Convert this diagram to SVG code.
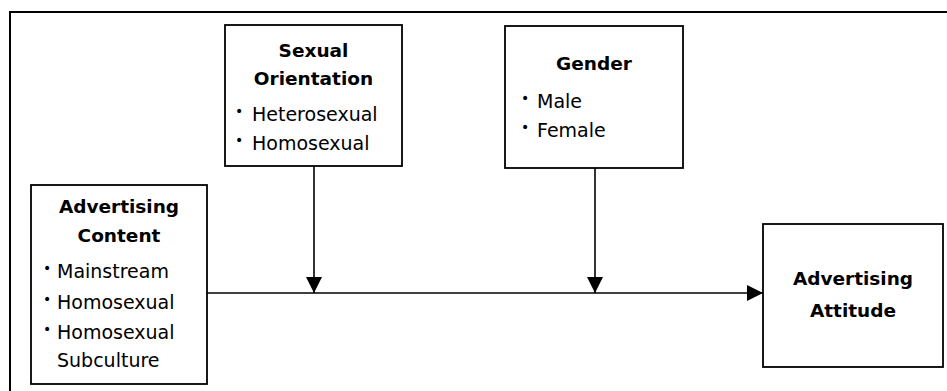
<svg xmlns="http://www.w3.org/2000/svg" width="947" height="391" viewBox="0 0 947 391">
<defs>
<style>
.box{fill:#fff;stroke:#000;stroke-width:1.8}
.t{font-family:"DejaVu Sans Bold","DejaVu Sans",sans-serif;font-weight:bold;font-size:18.5px;text-anchor:middle;fill:#000}
.b{font-family:"DejaVu Sans",sans-serif;font-size:19px;fill:#000}
.d{font-family:"DejaVu Sans",sans-serif;font-size:14px;fill:#000}
.c{stroke:#000;stroke-width:1.6;fill:none}
</style>
<marker id="ah" viewBox="0 0 10 10" refX="10" refY="5" markerWidth="16" markerHeight="16" markerUnits="userSpaceOnUse" orient="auto">
<path d="M0,0 L10,5 L0,10 z" fill="#000"/>
</marker>
</defs>
<rect x="0" y="0" width="947" height="391" fill="#fff"/>
<rect x="10" y="12" width="950" height="400" fill="none" stroke="#000" stroke-width="2"/>
<g id="connectors">
<line class="c" x1="207" y1="293" x2="763" y2="293" marker-end="url(#ah)"/>
<line class="c" x1="314" y1="166" x2="314" y2="293" marker-end="url(#ah)"/>
<line class="c" x1="595" y1="168" x2="595" y2="293" marker-end="url(#ah)"/>
</g>
<g id="sexual-orientation">
<rect class="box" x="225" y="25" width="177" height="141"/>
<text class="t" x="313.5" y="57">Sexual</text>
<text class="t" x="313.5" y="85">Orientation</text>
<text class="d" x="235" y="116">•</text>
<text class="b" x="252" y="121">Heterosexual</text>
<text class="d" x="235" y="145">•</text>
<text class="b" x="252" y="150">Homosexual</text>
</g>
<g id="gender">
<rect class="box" x="505" y="26" width="178" height="142"/>
<text class="t" x="594" y="70">Gender</text>
<text class="d" x="521" y="103">•</text>
<text class="b" x="537" y="108">Male</text>
<text class="d" x="521" y="132">•</text>
<text class="b" x="537" y="137">Female</text>
</g>
<g id="advertising-content">
<rect class="box" x="31" y="185" width="176" height="199"/>
<text class="t" x="119" y="213">Advertising</text>
<text class="t" x="119" y="242">Content</text>
<text class="d" x="43" y="273">•</text>
<text class="b" x="57" y="278">Mainstream</text>
<text class="d" x="43" y="304">•</text>
<text class="b" x="57" y="309">Homosexual</text>
<text class="d" x="43" y="334">•</text>
<text class="b" x="57" y="339">Homosexual</text>
<text class="b" x="57" y="367">Subculture</text>
</g>
<g id="advertising-attitude">
<rect class="box" x="763" y="224" width="180" height="143"/>
<text class="t" x="853" y="285">Advertising</text>
<text class="t" x="853" y="317">Attitude</text>
</g>
</svg>
